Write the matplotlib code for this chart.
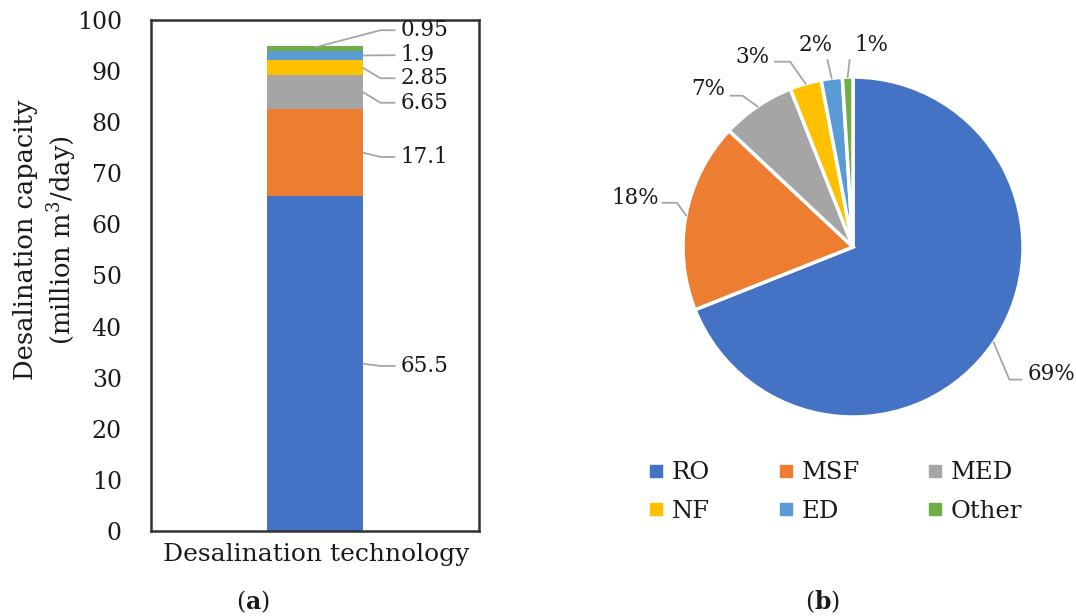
import matplotlib
matplotlib.use('Agg')
import matplotlib.pyplot as plt
from matplotlib.lines import Line2D
import numpy as np

# ---------------- data ----------------
technologies = ['RO', 'MSF', 'MED', 'NF', 'ED', 'Other']
capacity = [65.5, 17.1, 6.65, 2.85, 1.9, 0.95]          # million m3/day
colors = ['#4472C4', '#ED7D31', '#A5A5A5', '#FFC000', '#5B9BD5', '#70AD47']
yticks = [0, 10, 20, 30, 40, 50, 60, 70, 80, 90, 100]
x_category = 'Desalination technology'

# ---------------- layout constants ----------------
bar_label_y = [32.3, 73.2, 83.8, 88.6, 93.1, 98.0]       # label text heights (data units)
# pie labels: (text_x, text_y, ha, elbow_x, elbow_y, end_x)
pie_label_layout = [
    (1.03, -0.75, 'left', 0.92, -0.78, 0.99),
    (-1.14, 0.29, 'right', -1.035, 0.26, -1.12),
    (-0.75, 0.93, 'right', -0.65, 0.89, -0.72),
    (-0.49, 1.12, 'right', -0.37, 1.09, -0.46),
    (-0.22, 1.19, 'center', -0.15, 1.10, -0.15),
    (0.11, 1.19, 'center', -0.02, 1.10, -0.02),
]

plt.rcParams['font.family'] = ['DejaVu Serif']
plt.rcParams['mathtext.fontset'] = 'dejavuserif'
TXT = '#1a1a1a'
LEAD = '#a6a6a6'

W, H = 1076, 616
fig = plt.figure(figsize=(W / 100, H / 100), dpi=100)


def fx(px):
    return px / W


def fy(py):
    return 1 - py / H


# ---------------- (a) stacked bar ----------------
ax = fig.add_axes([fx(151), fy(531), fx(479) - fx(151), fy(20) - fy(531)])
bar_w = 0.29
bottom = 0.0
for name, val, col, ly in zip(technologies, capacity, colors, bar_label_y):
    ax.bar(0, val, bottom=bottom, width=bar_w, color=col, linewidth=0)
    center = bottom + val / 2
    top = bottom + val
    if ly > top:
        sx, sy = 0.0, top - 0.3
    else:
        sx, sy = bar_w / 2, center
    ax.plot([sx, 0.20, 0.245], [sy, ly, ly], color=LEAD, lw=1.3,
            solid_capstyle='butt', clip_on=False)
    ax.text(0.262, ly, f'{val:g}', ha='left', va='center', fontsize=15.5,
            color=TXT)
    bottom = top

ax.set_xlim(-0.5, 0.5)
ax.set_ylim(0, 100)
ax.set_yticks(yticks)
ax.set_xticks([])
ax.tick_params(axis='y', length=0, pad=21, labelsize=17, labelcolor=TXT)
for s in ax.spines.values():
    s.set_linewidth(1.8)
    s.set_color('#333333')

fig.text(fx(46), fy(240), 'Desalination capacity\n(million m$^3$/day)',
         rotation=90, ha='center', va='center', multialignment='center',
         fontsize=18.5, color=TXT, linespacing=1.3)
fig.text(fx(316), fy(555), x_category, ha='center', va='center',
         fontsize=18, color=TXT)
fig.text(fx(253), fy(602), r'($\mathbf{a}$)', ha='center', va='center',
         fontsize=17, color=TXT)

# ---------------- (b) pie ----------------
ax2 = fig.add_axes([fx(683), fy(417), fx(1023) - fx(683), fy(77) - fy(417)])
wedges, _ = ax2.pie(capacity, colors=colors, startangle=90, counterclock=False,
                    wedgeprops=dict(edgecolor='white', linewidth=2.5))
ax2.set_xlim(-1, 1)
ax2.set_ylim(-1, 1)
ax2.set_aspect('equal')
ax2.axis('off')

total = sum(capacity)
for w, val, lay in zip(wedges, capacity, pie_label_layout):
    tx, ty, ha, ex, ey, endx = lay
    mid = np.deg2rad((w.theta1 + w.theta2) / 2)
    px, py = np.cos(mid), np.sin(mid)
    ax2.plot([px, ex, endx], [py, ey, ey], color=LEAD, lw=1.3, clip_on=False)
    ax2.text(tx, ty, f'{round(val / total * 100):.0f}%', ha=ha, va='center',
             fontsize=15.5, color=TXT, clip_on=False)

order = [0, 3, 1, 4, 2, 5]
handles = [Line2D([], [], marker='s', linestyle='none', markersize=8.5,
                  markerfacecolor=colors[i], markeredgecolor=colors[i])
           for i in order]
labels = [technologies[i] for i in order]
fig.legend(handles, labels, ncol=3, loc='center left',
           bbox_to_anchor=(fx(638), fy(492)), frameon=False, fontsize=17.5,
           handlelength=0.7, handletextpad=0.3, columnspacing=2.75,
           labelspacing=0.62, borderaxespad=0, labelcolor=TXT)

fig.text(fx(823), fy(602), r'($\mathbf{b}$)', ha='center', va='center',
         fontsize=17, color=TXT)

fig.savefig('out.png', dpi=100)
